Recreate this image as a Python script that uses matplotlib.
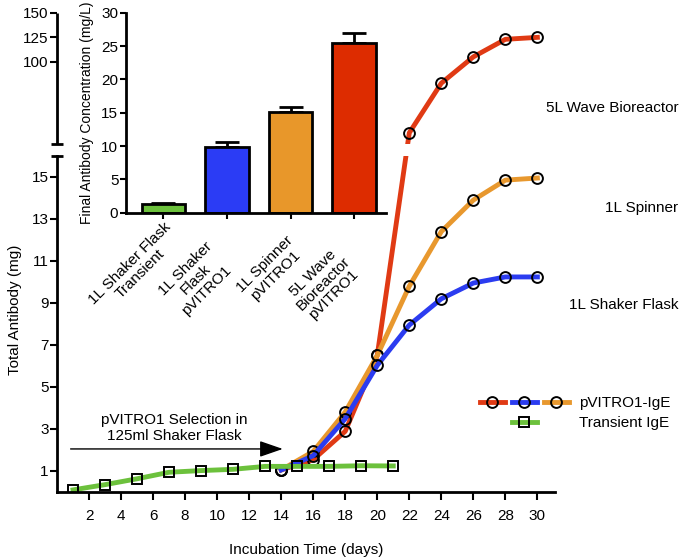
import numpy as np
import matplotlib
matplotlib.use("Agg")
import matplotlib.pyplot as plt
from matplotlib.lines import Line2D
from matplotlib.legend_handler import HandlerTuple
from matplotlib.patches import Rectangle
from matplotlib.transforms import ScaledTranslation

plt.rcParams['font.family'] = ['Liberation Sans', 'DejaVu Sans']
plt.rcParams['font.size'] = 11

# transient IgE, 125ml shaker flask
transient_days = [1, 3, 5, 7, 9, 11, 13, 15, 17, 19, 21]
transient_mg = [0.1, 0.35, 0.63, 0.94, 1.02, 1.08, 1.22, 1.22, 1.22, 1.25, 1.24]

# pVITRO1-IgE after selection
vitro_days = [14, 16, 18, 20, 22, 24, 26, 28, 30]
wave_mg = [1.05, 1.54, 2.89, 6.5, 27, 78, 105, 123, 125]
spinner_mg = [1.05, 1.93, 3.81, 6.5, 9.8, 12.4, 13.9, 14.85, 14.95]
shaker_mg = [1.05, 1.73, 3.49, 6.03, 7.95, 9.2, 9.95, 10.24, 10.24]

# inset: final concentration
bar_labels = ['1L Shaker Flask\nTransient', '1L Shaker\nFlask\npVITRO1',
              '1L Spinner\npVITRO1', '5L Wave\nBioreactor\npVITRO1']
bar_values = [1.3, 9.9, 15.1, 25.4]
bar_err = [0.15, 0.7, 0.8, 1.5]

RED = '#e03a14'
BLUE = '#2b3cf0'
ORANGE = '#e8982e'
GREEN = '#6cc13c'
BAR_COLORS = ['#6cc13c', '#2b3cf5', '#e8972a', '#dd2c00']

# broken y axis: linear 0-16, then compressed 16-150
LOW_TOP = 16.0
GAP = 0.59
K = 0.0464


def fwd(y):
    y = np.asarray(y, dtype=float)
    return np.where(y <= LOW_TOP, y, LOW_TOP + GAP + (y - LOW_TOP) * K)


def inv(t):
    t = np.asarray(t, dtype=float)
    return np.where(t <= LOW_TOP, t, LOW_TOP + (t - LOW_TOP - GAP) / K)


W, H = 685, 558
fig = plt.figure(figsize=(W / 100, H / 100), dpi=100)

ax = fig.add_axes([57 / W, (H - 492) / H, (555 - 57) / W, (492 - 13) / H])
ax.set_yscale('function', functions=(fwd, inv))
ax.set_xlim(0, 31.1)
ax.set_ylim(0, 150)

lw = 3.5
ms = 7.8
mk = dict(mfc='none', mec='k', mew=1.4)
l_red, = ax.plot(vitro_days, wave_mg, color=RED, lw=lw, marker='o', ms=ms, zorder=2, **mk)
l_blue, = ax.plot(vitro_days, shaker_mg, color=BLUE, lw=lw, marker='o', ms=ms, zorder=2.2, **mk)
l_orange, = ax.plot(vitro_days, spinner_mg, color=ORANGE, lw=lw, marker='o', ms=ms, zorder=2.1, **mk)
l_green, = ax.plot(transient_days, transient_mg, color=GREEN, lw=lw, marker='s', ms=ms,
                   zorder=2.3, **mk)

# white band where the axis is broken
t0, t1 = fwd(0), fwd(150)
f_lo = (LOW_TOP - t0) / (t1 - t0)
f_hi = (LOW_TOP + GAP - t0) / (t1 - t0)
ax.add_patch(Rectangle((0.01, f_lo), 0.99, f_hi - f_lo, transform=ax.transAxes,
                       facecolor='white', edgecolor='none', zorder=3))

for s in ['top', 'right']:
    ax.spines[s].set_visible(False)
ax.spines['left'].set_bounds(0, LOW_TOP)
ax.spines['left'].set_linewidth(2)
ax.spines['bottom'].set_linewidth(2)
ax.plot([0, 0], [LOW_TOP + 1e-6, 150], transform=ax.get_yaxis_transform(),
        color='k', lw=2, clip_on=False, solid_capstyle='butt', zorder=5)
ax.plot([0, 0], [LOW_TOP, LOW_TOP + 1e-6], transform=ax.get_yaxis_transform(),
        ls='none', marker='_', ms=8, mew=2, color='k', clip_on=False, zorder=5)

ax.set_yticks([1, 3, 5, 7, 9, 11, 13, 15, 100, 125, 150])
ax.set_yticklabels(['1', '3', '5', '7', '9', '11', '13', '15', '100', '125', '150'])
ax.yaxis.set_minor_locator(matplotlib.ticker.NullLocator())
ax.set_xticks(range(2, 31, 2))
ax.tick_params(axis='both', width=1.5, labelsize=11)
ax.tick_params(axis='y', length=5, pad=1)
ax.tick_params(axis='x', length=6, pad=6)
ax.set_xlabel('Incubation Time (days)', fontsize=11)
ax.xaxis.set_label_coords(0.5, -0.106)
ax.set_ylabel('Total Antibody (mg)', fontsize=11, va='center')
ax.yaxis.set_label_coords(-0.084, 0.38)

# selection arrow
ax.annotate('', xy=(14.1, 2.05), xytext=(0.85, 2.05),
            arrowprops=dict(arrowstyle='-|>,head_length=1.3,head_width=0.45',
                            color='k', lw=1.0, shrinkA=0, shrinkB=0))
ax.text(7.3, 3.05, 'pVITRO1 Selection in\n125ml Shaker Flask', ha='center',
        va='center', fontsize=11, linespacing=1.2)

# curve labels
ax.text(38.8, 52.6, '5L Wave Bioreactor', ha='right', va='center', clip_on=False)
ax.text(38.8, 13.5, '1L Spinner', ha='right', va='center', clip_on=False)
ax.text(38.8, 8.9, '1L Shaker Flask', ha='right', va='center', clip_on=False)

blank = Line2D([], [], ls='none')
leg = ax.legend([(l_red, l_blue, l_orange), (blank, l_green, blank)],
                ['pVITRO1-IgE', 'Transient IgE'],
                handler_map={tuple: HandlerTuple(ndivide=None, pad=0.45)},
                loc='upper left', bbox_to_anchor=(480 / W, 1 - 396 / H),
                bbox_transform=fig.transFigure, frameon=False, borderpad=0,
                borderaxespad=0, handlelength=5.8, handletextpad=0.7,
                labelspacing=0.4, numpoints=1, fontsize=11)

# inset bar chart
ax2 = fig.add_axes([126 / W, (H - 212.7) / H, (386 - 126) / W, 200 / H])
x = np.arange(len(bar_values))
ax2.bar(x, bar_values, width=0.684, color=BAR_COLORS, edgecolor='k', linewidth=2, zorder=2)
ax2.errorbar(x, bar_values, yerr=[np.zeros(len(bar_err)), bar_err], fmt='none',
             ecolor='k', elinewidth=2, capsize=8.5, capthick=2, zorder=1)
ax2.set_xlim(-0.587, 3.5)
ax2.set_ylim(0, 30)
ax2.set_yticks([0, 5, 10, 15, 20, 25, 30])
ax2.set_xticks(x)
ax2.set_xticklabels(bar_labels, rotation=45, ha='right', va='top',
                    rotation_mode='anchor', multialignment='center', fontsize=11.5,
                    linespacing=1.1)
for s in ['top', 'right']:
    ax2.spines[s].set_visible(False)
ax2.spines['left'].set_linewidth(2)
ax2.spines['bottom'].set_linewidth(2)
ax2.tick_params(axis='both', width=1.5, length=4, labelsize=11, pad=1.5)
ax2.tick_params(axis='x', pad=4)
ax2.set_ylabel('Final Antibody Concentration (mg/L)', fontsize=10, labelpad=5)
ax2.patch.set_alpha(0)

# nudge the rotated category labels (pixels: right, down) like the original layout
fig.canvas.draw()
label_shift = [(0, -4), (-22, 16), (-5, 10), (-22, 20)]
for lab, (dx, dy) in zip(ax2.get_xticklabels(), label_shift):
    lab.set_transform(lab.get_transform() +
                      ScaledTranslation(dx / 100, -dy / 100, fig.dpi_scale_trans))

fig.savefig('out.png', dpi=100)
